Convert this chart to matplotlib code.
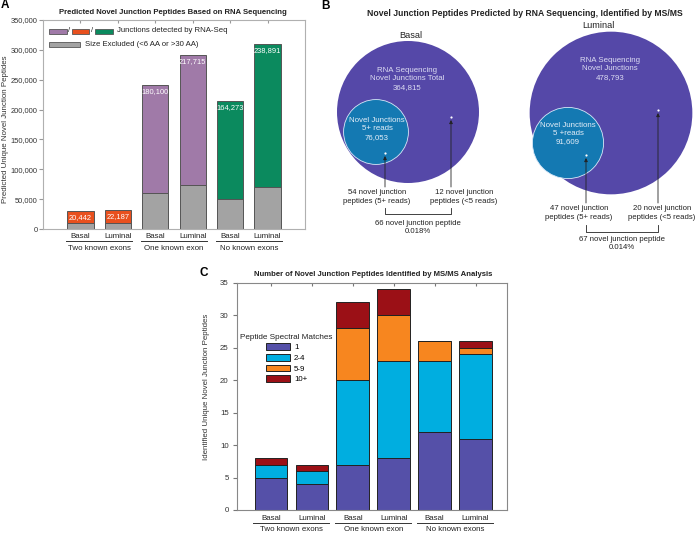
import numpy as np
import matplotlib
matplotlib.use('Agg')
import matplotlib.pyplot as plt
from matplotlib.patches import Circle, Rectangle

plt.rcParams['font.family'] = ['Liberation Sans', 'DejaVu Sans']

# === DADOS ===
amostras = ['Basal', 'Luminal'] * 3
grupos = ['Two known exons', 'One known exon', 'No known exons']

# painel A
excluidos = [9500, 9800, 61000, 73000, 50000, 71000]
detectados = [20442, 22187, 180100, 217715, 164273, 238891]
cores_a = ['#e8501e', '#e8501e', '#a07aa8', '#a07aa8', '#0b8a5e', '#0b8a5e']

# painel B
nomes_b = ['Basal', 'Luminal']
totais_b = [364815, 478793]
reads5_b = [76053, 91609]
pep5_b = [54, 47]
pep_menos5_b = [12, 20]
soma_b = [66, 67]
pct_b = ['0.018%', '0.014%']

# painel C
psm_rotulos = ['1', '2-4', '5-9', '10+']
psm_1 = [5, 4, 7, 8, 12, 11]
psm_2_4 = [2, 2, 13, 15, 11, 13]
psm_5_9 = [0, 0, 8, 7, 3, 1]
psm_10 = [1, 1, 4, 4, 0, 1]
cores_c = ['#5550a8', '#00aee0', '#f7861f', '#9b1016']

W, H = 696, 533
FS = 5.4
TXT = '#222222'

fig = plt.figure(figsize=(W / 100, H / 100), dpi=100)


def eixo_px(esq, topo, dir_, base):
    return fig.add_axes([esq / W, 1 - base / H, (dir_ - esq) / W, (base - topo) / H])


# camada de cima em pixels (titulos, painel B, legendas)
ov = fig.add_axes([0, 0, 1, 1])
ov.set_xlim(0, W)
ov.set_ylim(H, 0)
ov.axis('off')
ov.patch.set_alpha(0)
ov.set_zorder(10)


def rotulos_grupo(ax, y_linha, y_texto, larg):
    tr = ax.get_xaxis_transform()
    for g, nome in enumerate(grupos):
        x0, x1 = 2 * g - larg / 2 - 0.03, 2 * g + 1 + larg / 2 + 0.03
        ax.plot([x0, x1], [y_linha, y_linha], color='#333333', lw=0.7,
                transform=tr, clip_on=False)
        ax.text((x0 + x1) / 2, y_texto, nome, transform=tr, ha='center',
                va='center', fontsize=FS + 0.3, color=TXT)


def estilo_eixo(ax, cor_spine):
    for s in ax.spines.values():
        s.set_color(cor_spine)
        s.set_linewidth(0.8)


# === PAINEL A ===
axA = eixo_px(43, 20, 305, 229)
x = np.arange(len(amostras))
larg_a = 0.7
axA.bar(x, excluidos, larg_a, color='#a3a3a3', edgecolor='#555555', lw=0.7, zorder=2)
axA.bar(x, detectados, larg_a, bottom=excluidos, color=cores_a,
        edgecolor='#555555', lw=0.7, zorder=2)
for xi, b, d in zip(x, excluidos, detectados):
    axA.annotate(f'{d:,}', (xi, b + d), xytext=(0, -2.2), textcoords='offset points',
                 ha='center', va='top', color='white', fontsize=FS, zorder=3)
axA.set_xlim(-1, 6)
axA.set_ylim(0, 350000)
axA.set_yticks(np.arange(0, 350001, 50000))
axA.set_yticklabels([f'{v:,}' for v in range(0, 350001, 50000)], fontsize=5.4, color='#333333')
axA.set_xticks(x)
axA.set_xticklabels(amostras, fontsize=FS + 0.3, color=TXT)
axA.tick_params(axis='y', direction='out', length=3, pad=1, color='#999999')
axA.tick_params(axis='x', direction='in', length=2, pad=3, top=True, color='#999999')
estilo_eixo(axA, '#b0b0b0')
axA.set_ylabel('Predicted Unique Novel Junction Peptides', fontsize=FS + 0.3, color='#333333')
axA.yaxis.set_label_coords((9.5 - 43) / 262, 0.478)
rotulos_grupo(axA, -0.057, -0.092, larg_a)

ov.text(173, 13, 'Predicted Novel Junction Peptides Based on RNA Sequencing',
        ha='center', va='center', fontsize=5.6, fontweight='bold', color=TXT)

# legenda A (desenhada a mao)
for x0, x1, c in [(49, 67, '#a07aa8'), (72, 89, '#e8501e'), (95, 113, '#0b8a5e')]:
    ov.add_patch(Rectangle((x0, 28.5), x1 - x0, 5, facecolor=c, edgecolor='#555555', lw=0.6))
ov.text(69.5, 31, '/', ha='center', va='center', fontsize=FS, color=TXT)
ov.text(92, 31, '/', ha='center', va='center', fontsize=FS, color=TXT)
ov.text(117, 31, 'Junctions detected by RNA-Seq', ha='left', va='center', fontsize=FS + 0.2, color=TXT)
ov.add_patch(Rectangle((49, 41.5), 31, 5, facecolor='#a3a3a3', edgecolor='#555555', lw=0.6))
ov.text(85, 44, 'Size Excluded (<6 AA or >30 AA)', ha='left', va='center', fontsize=FS + 0.2, color=TXT)

# === PAINEL B ===
ov.text(525, 14, 'Novel Junction Peptides Predicted by RNA Sequencing, Identified by MS/MS',
        ha='center', va='center', fontsize=6.2, fontweight='bold', color=TXT)
k = 71 / np.sqrt(totais_b[0])
centro_g = [(408, 112), (611, 113)]
centro_p = [(376, 132), (568, 143)]
pos_nome = [(411, 35), (598, 25)]
txt_g = [(407, 79), (610, 69)]
txt_p = [(377, 129), (568, 133.5)]
texto_g = ['RNA Sequencing\nNovel Junctions Total\n{:,}', 'RNA Sequencing\nNovel Junctions\n{:,}']
texto_p = ['Novel Junctions\n5+ reads\n{:,}', 'Novel Junctions\n5 +reads\n{:,}']
pontos = [((385, 153), (451, 117)), ((586, 155), (658, 110))]
base_seta = [187, 203]
y_rot = [197, 213]
y_chave = [(208, 214), (225, 232)]
y_soma = [227.5, 243.5]
x_rot = [(377, 464), (579, 662)]

for i in range(2):
    ov.add_patch(Circle(centro_g[i], k * np.sqrt(totais_b[i]), facecolor='#5548a8',
                        edgecolor='none', zorder=1))
    ov.add_patch(Circle(centro_p[i], k * np.sqrt(reads5_b[i]), facecolor='#1479b2',
                        edgecolor='#d8e8f8', lw=0.6, zorder=2))
    ov.text(*pos_nome[i], nomes_b[i], ha='center', va='center', fontsize=6.6, color=TXT)
    ov.text(*txt_g[i], texto_g[i].format(totais_b[i]), ha='center', va='center',
            fontsize=5.7, color='#dcdcf2', linespacing=1.25, zorder=3)
    ov.text(*txt_p[i], texto_p[i].format(reads5_b[i]), ha='center', va='center',
            fontsize=5.7, color='#e4eef8', linespacing=1.25, zorder=3)
    for (px, py) in pontos[i]:
        ov.plot(px, py, 'o', ms=1.6, color='white', mec='none', zorder=4)
        ov.annotate('', xy=(px, py + 3), xytext=(px, base_seta[i]),
                    arrowprops=dict(arrowstyle='-|>', color='#222222', lw=0.6,
                                    mutation_scale=5, shrinkA=0, shrinkB=0), zorder=4)
    ov.text(x_rot[i][0], y_rot[i], f'{pep5_b[i]} novel junction\npeptides (5+ reads)',
            ha='center', va='center', fontsize=5.6, color=TXT, linespacing=1.25)
    ov.text(x_rot[i][1], y_rot[i], f'{pep_menos5_b[i]} novel junction\npeptides (<5 reads)',
            ha='center', va='center', fontsize=5.6, color=TXT, linespacing=1.25)
    xa, xb = pontos[i][0][0], pontos[i][1][0]
    ya, yb = y_chave[i]
    ov.plot([xa, xa, xb, xb], [ya, yb, yb, ya], color='#222222', lw=0.6)
    ov.text((xa + xb) / 2, y_soma[i], f'{soma_b[i]} novel junction peptide\n{pct_b[i]}',
            ha='center', va='center', fontsize=5.6, color=TXT, linespacing=1.25)

# === PAINEL C ===
axC = eixo_px(237, 282.7, 507, 510)
larg_c = 0.8
base = np.zeros(len(amostras))
for vals, cor, rot in zip([psm_1, psm_2_4, psm_5_9, psm_10], cores_c, psm_rotulos):
    axC.bar(x, vals, larg_c, bottom=base, color=cor, edgecolor='#222222', lw=0.7,
            label=rot, zorder=2)
    base += np.array(vals)
axC.set_xlim(-0.83, 5.77)
axC.set_ylim(0, 35)
axC.set_yticks(np.arange(0, 36, 5))
axC.tick_params(axis='y', direction='out', length=3, pad=3, labelsize=FS + 0.3,
                color='#777777', labelcolor='#333333')
axC.set_xticks(x)
axC.set_xticklabels(amostras, fontsize=FS + 0.3, color=TXT)
axC.tick_params(axis='x', direction='in', length=2, pad=3.5, top=True, color='#777777')
estilo_eixo(axC, '#888888')
axC.set_ylabel('Identified Unique Novel Junction Peptides', fontsize=FS + 0.3, color='#333333')
axC.yaxis.set_label_coords((210.5 - 237) / 270, 0.543)
rotulos_grupo(axC, -0.057, -0.086, larg_c)
leg = axC.legend(title='Peptide Spectral Matches', fontsize=FS + 0.3, title_fontsize=FS + 0.5,
                 frameon=False, loc='upper left', bbox_to_anchor=(0.012, 0.775),
                 borderaxespad=0, borderpad=0, handlelength=3.1, handleheight=0.9,
                 labelspacing=0.33, handletextpad=0.5)
leg.get_title().set_color(TXT)

ov.text(373, 274, 'Number of Novel Junction Peptides Identified by MS/MS Analysis',
        ha='center', va='center', fontsize=5.6, fontweight='bold', color=TXT)

# letras dos paineis
for letra, (px, py) in zip('ABC', [(4.5, 5), (326, 6), (204, 272.5)]):
    ov.text(px, py, letra, ha='center', va='center', fontsize=8.5, fontweight='bold', color='black')

fig.savefig('out.png', dpi=100)
